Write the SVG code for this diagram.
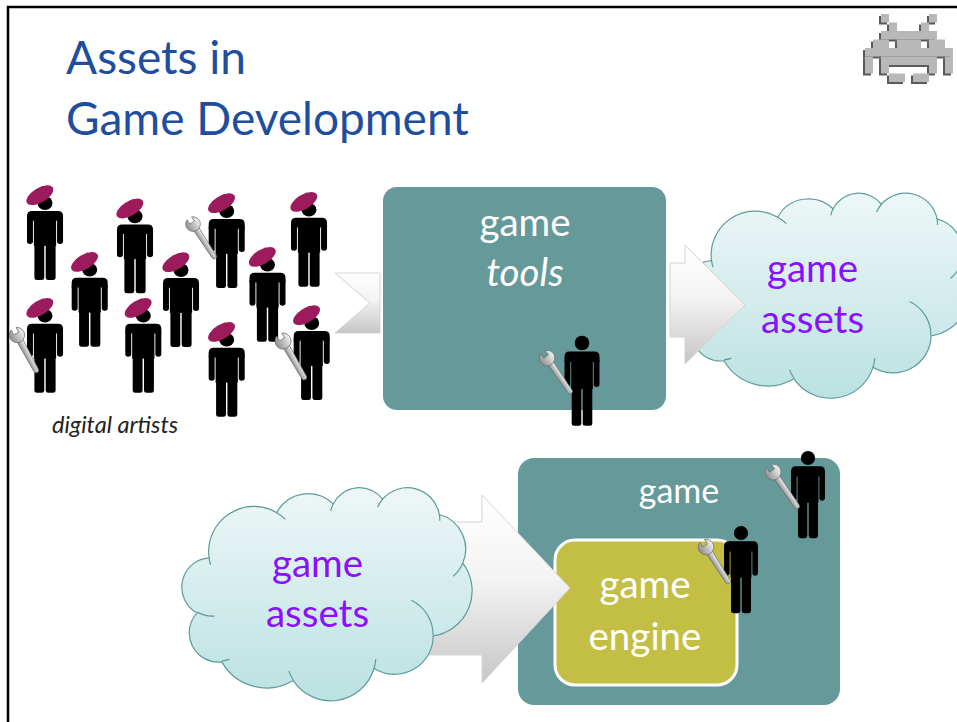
<svg xmlns="http://www.w3.org/2000/svg" width="957" height="722" viewBox="0 0 957 722">
  <defs>
    <style>
      .title{font-family:Lato,'Open Sans',sans-serif;font-size:46px;fill:#1f4e9e}
      .lbl{font-family:Lato,'Open Sans',sans-serif;font-size:38.5px;text-anchor:middle}
      .white{fill:#fff}
      .purple{fill:#8a10ff}
      .it{font-style:italic}
      .caption{font-family:Lato,'Open Sans',sans-serif;font-size:23.5px;font-style:italic;fill:#222}
      .cloud{fill:url(#cloudFill);stroke:#5e9c9c;stroke-width:1.2}
      .cloud-line{fill:none;stroke:#5e9c9c;stroke-width:1.2}
      .arrow{fill:url(#arrowFill);stroke:#d4d4d4;stroke-width:1}
      .teal{fill:#669a9a}
      .olive{fill:#c3bf45;stroke:#fff;stroke-width:3}
      .black{fill:#000}
      .beret{fill:#9c1b5c}
      .steel{fill:url(#steel);stroke:#6a6a6a;stroke-width:0.7}
      .cube{fill:#b8b8b8}
      .cube-side{fill:#5a5a5a}
    </style>
    <linearGradient id="cloudFill" x1="0" y1="0" x2="0" y2="1">
      <stop offset="0" stop-color="#eef7f7"/>
      <stop offset="1" stop-color="#bbe1e1"/>
    </linearGradient>
    <linearGradient id="arrowFill" x1="0" y1="0" x2="0" y2="1">
      <stop offset="0" stop-color="#ffffff"/>
      <stop offset="0.45" stop-color="#f3f3f3"/>
      <stop offset="1" stop-color="#c6c6c6"/>
    </linearGradient>
    <linearGradient id="steel" x1="0" y1="0" x2="0" y2="1">
      <stop offset="0" stop-color="#f2f2f2"/>
      <stop offset="1" stop-color="#8e8e8e"/>
    </linearGradient>

    <!-- cloud outline in a 43200 x 43200 unit box -->
    <path id="cloud-shape" vector-effect="non-scaling-stroke"
      d="M3900 14370 A6753 9190 0 0 1 14004 5201 A5333 7267 0 0 1 22455 3431 A4365 5945 0 0 1 29832 2479 A4857 6595 0 0 1 38317 5573 A5333 7273 0 0 1 41817 15457 A6775 9220 0 0 1 37403 30199 A5785 7867 0 0 1 28554 36810 A6752 9215 0 0 1 16479 39263 A7720 10543 0 0 1 5803 35470 A4360 5918 0 0 1 2113 25546 A4345 5945 0 0 1 3900 14370 Z"/>
    <!-- inner fold lines of the cloud -->
    <path id="cloud-lines" vector-effect="non-scaling-stroke"
      d="M4693 26177 A4345 5945 0 0 1 2159 25379 M6928 34899 A4360 5918 0 0 1 5819 35281 M16478 39090 A6752 9215 0 0 1 15810 37349 M28821 34900 A6752 9215 0 0 1 28554 36810 M34129 22954 A5785 7867 0 0 1 37381 30090 M41817 15457 A5333 7273 0 0 1 40369 18134 M38317 5573 A4857 6595 0 0 1 38394 6838 M29090 4091 A4857 6595 0 0 1 29832 2479 M22096 4820 A4365 5945 0 0 1 22455 3431 M14004 5201 A6753 9190 0 0 1 15307 6552 M4127 15789 A6753 9190 0 0 1 3900 14370"/>

    <!-- pictogram person, head centre at origin -->
    <g id="man" class="black">
      <circle cx="0" cy="0" r="7.3"/>
      <path d="M-12.5 8.6 H12.5 Q17.5 8.6 17.5 14 V19 H-17.5 V14 Q-17.5 8.6 -12.5 8.6 Z"/>
      <rect x="-17.5" y="15" width="5.8" height="29" rx="2.9"/>
      <rect x="11.7" y="15" width="5.8" height="29" rx="2.9"/>
      <rect x="-10.8" y="12" width="21.6" height="34"/>
      <rect x="-10.3" y="40" width="9.6" height="42.7" rx="2.5"/>
      <rect x="0.7" y="40" width="9.6" height="42.7" rx="2.5"/>
    </g>
    <!-- person wearing a beret -->
    <g id="artist">
      <use href="#man"/>
      <g class="beret" transform="translate(-5 -8.5)">
        <ellipse cx="0" cy="0" rx="15" ry="7.6" transform="rotate(-35)"/>
        <circle cx="3" cy="-8.6" r="1.4"/>
      </g>
    </g>
    <!-- open-end wrench: jaw at origin, handle along +x -->
    <g id="wrench" class="steel">
      <path d="M5 -3.3 L42 -2.6 A2.6 2.6 0 0 1 42 2.6 L5 3.3 Z"/>
      <path d="M-7.4 -2.9 A8 8 0 1 1 -7.4 2.9 L-1.8 2.9 L-1.8 -2.9 Z"/>
    </g>
  </defs>

  <rect width="957" height="722" fill="#fff"/>
  <path d="M8 722 V7 H957" fill="none" stroke="#000" stroke-width="2.5"/>

  <!-- title -->
  <g id="title">
    <text class="title" x="66" y="74">Assets in</text>
    <text class="title" x="66" y="135">Game Development</text>
  </g>

  <!-- pixel invader badge -->
  <g id="invader">
    <g class="cube-side" transform="translate(-2 2)">
      <rect x="881" y="14" width="8" height="8.5"/><rect x="929" y="14" width="8" height="8.5"/>
      <rect x="889" y="22.5" width="8" height="8.5"/><rect x="921" y="22.5" width="8" height="8.5"/>
      <rect x="881" y="31" width="56" height="8.5"/>
      <rect x="873" y="39.5" width="16" height="8.5"/><rect x="897" y="39.5" width="24" height="8.5"/><rect x="929" y="39.5" width="16" height="8.5"/>
      <rect x="865" y="48" width="88" height="8.5"/>
      <rect x="865" y="56.5" width="8" height="8.5"/><rect x="881" y="56.5" width="56" height="8.5"/><rect x="945" y="56.5" width="8" height="8.5"/>
      <rect x="865" y="65" width="8" height="8.5"/><rect x="881" y="65" width="8" height="8.5"/><rect x="929" y="65" width="8" height="8.5"/><rect x="945" y="65" width="8" height="8.5"/>
      <rect x="889" y="73.5" width="16" height="8.5"/><rect x="913" y="73.5" width="16" height="8.5"/>
    </g>
    <g class="cube">
      <rect x="881" y="14" width="8" height="8.5"/><rect x="929" y="14" width="8" height="8.5"/>
      <rect x="889" y="22.5" width="8" height="8.5"/><rect x="921" y="22.5" width="8" height="8.5"/>
      <rect x="881" y="31" width="56" height="8.5"/>
      <rect x="873" y="39.5" width="16" height="8.5"/><rect x="897" y="39.5" width="24" height="8.5"/><rect x="929" y="39.5" width="16" height="8.5"/>
      <rect x="865" y="48" width="88" height="8.5"/>
      <rect x="865" y="56.5" width="8" height="8.5"/><rect x="881" y="56.5" width="56" height="8.5"/><rect x="945" y="56.5" width="8" height="8.5"/>
      <rect x="865" y="65" width="8" height="8.5"/><rect x="881" y="65" width="8" height="8.5"/><rect x="929" y="65" width="8" height="8.5"/><rect x="945" y="65" width="8" height="8.5"/>
      <rect x="889" y="73.5" width="16" height="8.5"/><rect x="913" y="73.5" width="16" height="8.5"/>
    </g>
  </g>

  <!-- game tools -->
  <g id="game-tools">
    <rect class="teal" x="383" y="187" width="283" height="223" rx="14"/>
    <text class="lbl white" x="525" y="236">game</text>
    <text class="lbl white it" x="525" y="286">tools</text>
  </g>

  <!-- produced assets -->
  <g id="assets-out">
    <use href="#cloud-shape" class="cloud" transform="translate(686 192.5) scale(0.0065509 0.0047454)"/>
    <use href="#cloud-lines" class="cloud-line" transform="translate(686 192.5) scale(0.0065509 0.0047454)"/>
    <text class="lbl purple" x="812.5" y="282">game</text>
    <text class="lbl purple" x="812.5" y="333">assets</text>
  </g>

  <!-- the game, with its engine -->
  <g id="game">
    <rect class="teal" x="518" y="458" width="322" height="247" rx="16"/>
    <text class="lbl white" x="679" y="503" style="font-size:34px">game</text>
  </g>
  <g id="game-engine">
    <rect class="olive" x="555" y="540" width="182" height="145" rx="20"/>
    <text class="lbl white" x="645" y="598">game</text>
    <text class="lbl white" x="645" y="650">engine</text>
  </g>

  <!-- flow arrows -->
  <g id="connectors">
    <polygon class="arrow" points="335,273 380,273 380,333 335,333 370,303"/>
    <polygon class="arrow" points="670,263 685,263 685,245 745,305 685,364 685,337 670,337"/>
    <polygon class="arrow" points="400,522 482,522 482,495 570,588 482,683 482,655 400,655"/>
  </g>

  <!-- assets fed into the game -->
  <g id="assets-in">
    <use href="#cloud-shape" class="cloud" transform="translate(183 487) scale(0.0066898 0.0049306)"/>
    <use href="#cloud-lines" class="cloud-line" transform="translate(183 487) scale(0.0066898 0.0049306)"/>
    <text class="lbl purple" x="317.5" y="577">game</text>
    <text class="lbl purple" x="317.5" y="627">assets</text>
  </g>

  <!-- digital artists -->
  <g id="digital-artists">
    <use href="#artist" transform="translate(45 203.1) scale(1.03 0.93)"/>
    <use href="#artist" transform="translate(89.7 269.8) scale(1.03 0.93)"/>
    <use href="#artist" transform="translate(135 216.4) scale(1.03 0.93)"/>
    <use href="#artist" transform="translate(181 270.1) scale(1.03 0.93)"/>
    <use href="#artist" transform="translate(226.7 211.1) scale(1.03 0.93)"/>
    <use href="#artist" transform="translate(267.5 264.8) scale(1.03 0.93)"/>
    <use href="#artist" transform="translate(309 209.8) scale(1.03 0.93)"/>
    <use href="#artist" transform="translate(45 315.8) scale(1.03 0.93)"/>
    <use href="#artist" transform="translate(143.3 315.8) scale(1.03 0.93)"/>
    <use href="#artist" transform="translate(226.7 339.8) scale(1.03 0.93)"/>
    <use href="#artist" transform="translate(311.7 323.1) scale(1.03 0.93)"/>
    <use href="#wrench" transform="translate(193 224) rotate(57.1) scale(0.92)"/>
    <use href="#wrench" transform="translate(17 335) rotate(61.6) scale(0.955)"/>
    <use href="#wrench" transform="translate(283 341) rotate(59.9) scale(1)"/>
    <text class="caption" x="52" y="433">digital artists</text>
  </g>

  <!-- programmers -->
  <g id="tools-programmer">
    <use href="#man" transform="translate(582 343)"/>
    <use href="#wrench" transform="translate(547 358) rotate(55.6) scale(0.964)"/>
  </g>
  <g id="game-programmer">
    <use href="#man" transform="translate(808 458) scale(0.97)"/>
    <use href="#wrench" transform="translate(773 472) rotate(55.2) scale(0.995)"/>
  </g>
  <g id="engine-programmer">
    <use href="#man" transform="translate(741 533) scale(0.97)"/>
    <use href="#wrench" transform="translate(706 547) rotate(57.4) scale(0.97)"/>
  </g>
</svg>
